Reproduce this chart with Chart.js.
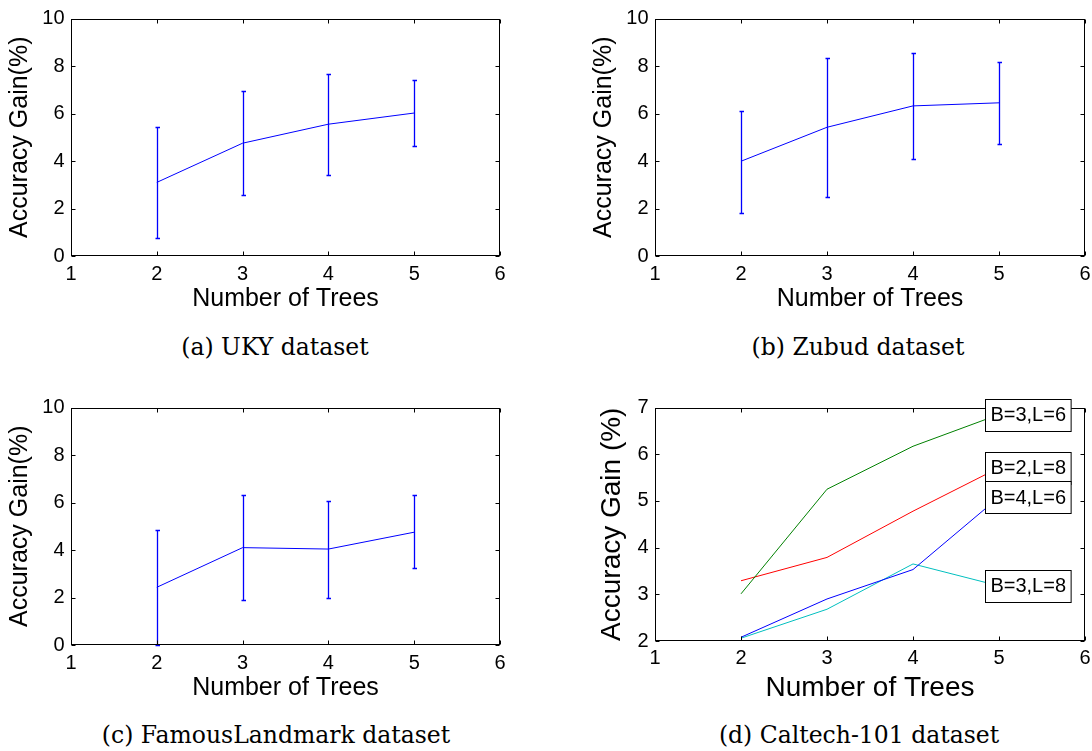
<!DOCTYPE html>
<html>
<head>
<meta charset="utf-8">
<script src="https://cdn.jsdelivr.net/npm/chart.js@4.4.0/dist/chart.umd.min.js"></script>
<style>
  body { margin: 0; width: 1092px; height: 751px; overflow: hidden; background: #fff; position: relative; }
  canvas { position: absolute; }
  .cap { position: absolute; width: 400px; text-align: center; font-family: "DejaVu Serif", "Liberation Serif", serif; font-size: 23.5px; line-height: 28px; color: #000; }
</style>
</head>
<body>
<canvas id="chartA"></canvas>
<canvas id="chartB"></canvas>
<canvas id="chartC"></canvas>
<canvas id="chartD"></canvas>
<div class="cap" style="left:75px;top:333px">(a) UKY dataset</div>
<div class="cap" style="left:658px;top:333px">(b) Zubud dataset</div>
<div class="cap" style="left:76px;top:721px">(c) FamousLandmark dataset</div>
<div class="cap" style="left:659px;top:721px">(d) Caltech-101 dataset</div>
<script>
// data
const trees = [2, 3, 4, 5]
const xTicks = [1, 2, 3, 4, 5, 6]
const gainTicks = [0, 2, 4, 6, 8, 10]
const caltechTicks = [2, 3, 4, 5, 6, 7]

const ukyMean = [3.1, 4.75, 5.55, 6.02]
const ukyLow = [0.76, 2.58, 3.43, 4.62]
const ukyHigh = [5.42, 6.94, 7.68, 7.43]

const zubudMean = [3.99, 5.42, 6.32, 6.45]
const zubudLow = [1.83, 2.5, 4.1, 4.7]
const zubudHigh = [6.1, 8.35, 8.55, 8.18]

const landmarkMean = [2.43, 4.1, 4.04, 4.75]
const landmarkLow = [0, 1.89, 2.0, 3.24]
const landmarkHigh = [4.84, 6.3, 6.07, 6.3]

const caltechNames = ['B=4,L=6', 'B=3,L=6', 'B=2,L=8', 'B=3,L=8']
const caltechB4L6 = [2.08, 2.9, 3.53, 5.08]
const caltechB3L6 = [3.01, 5.25, 6.17, 6.85]
const caltechB2L8 = [3.29, 3.79, 4.78, 5.71]
const caltechB3L8 = [2.06, 2.68, 3.65, 3.18]
const caltechColors = ['#0000ff', '#008000', '#ff0000', '#00bfbf']

Chart.defaults.font.family = '"Liberation Sans", Arial, sans-serif'
Chart.defaults.color = '#000'

const pts = vals => vals.map((v, i) => ({ x: trees[i], y: v }))

// matlab style box with inward ticks
const frameTicks = {
  id: 'frameTicks',
  afterDatasetsDraw(chart) {
    const { ctx, chartArea: a, scales } = chart
    const L = Math.round(a.left) + 0.5, R = Math.round(a.right) - 0.5
    const T = Math.round(a.top) + 0.5, B = Math.round(a.bottom) - 0.5
    ctx.save()
    ctx.strokeStyle = '#000'
    ctx.lineWidth = 1
    ctx.beginPath()
    scales.x.ticks.forEach(t => {
      const px = Math.round(scales.x.getPixelForValue(t.value)) + 0.5
      ctx.moveTo(px, B); ctx.lineTo(px, B - 4)
      ctx.moveTo(px, T); ctx.lineTo(px, T + 4)
    })
    scales.y.ticks.forEach(t => {
      const py = Math.round(scales.y.getPixelForValue(t.value)) + 0.5
      ctx.moveTo(L, py); ctx.lineTo(L + 4, py)
      ctx.moveTo(R, py); ctx.lineTo(R - 4, py)
    })
    ctx.stroke()
    ctx.strokeRect(L, T, R - L, B - T)
    ctx.restore()
  }
}

const errorBars = {
  id: 'errorBars',
  afterDatasetsDraw(chart) {
    const { ctx, scales: { x, y } } = chart
    chart.data.datasets.forEach(ds => {
      if (!ds.errLow) return
      ctx.save()
      ctx.strokeStyle = '#0000ff'
      ctx.lineWidth = 1.3
      ctx.beginPath()
      ds.data.forEach((p, i) => {
        const px = Math.round(x.getPixelForValue(p.x)) + 0.5
        const lo = Math.round(y.getPixelForValue(ds.errLow[i])) + 0.5
        const hi = Math.round(y.getPixelForValue(ds.errHigh[i])) + 0.5
        ctx.moveTo(px, lo); ctx.lineTo(px, hi)
        ctx.moveTo(px - 2, lo); ctx.lineTo(px + 2.5, lo)
        ctx.moveTo(px - 2, hi); ctx.lineTo(px + 2.5, hi)
      })
      ctx.stroke()
      ctx.restore()
    })
  }
}

const endLabels = {
  id: 'endLabels',
  afterDraw(chart) {
    const opts = chart.options.plugins.endLabels
    if (!opts || !opts.show) return
    const { ctx, scales: { x, y } } = chart
    const items = chart.data.datasets.map(ds => ({ text: ds.label, v: ds.data[ds.data.length - 1].y }))
    items.sort((a, b) => b.v - a.v)
    ctx.save()
    ctx.font = '20px "Liberation Sans", Arial, sans-serif'
    ctx.textBaseline = 'middle'
    ctx.textAlign = 'left'
    items.forEach(it => {
      const tx = x.getPixelForValue(opts.atX)
      const cy = y.getPixelForValue(it.v)
      const w = ctx.measureText(it.text).width + 10
      const bx = Math.round(tx - 5) + 0.5, by = Math.round(cy - 16) + 0.5
      ctx.fillStyle = '#fff'
      ctx.fillRect(bx, by, w, 32)
      ctx.strokeStyle = '#000'
      ctx.lineWidth = 1
      ctx.strokeRect(bx, by, w, 32)
      ctx.fillStyle = '#000'
      ctx.fillText(it.text, tx, cy + 1)
    })
    ctx.restore()
  }
}

function makeChart(id, p, datasets, yTicks, yTitle, extra) {
  const yw = 71, xh = 70
  const cv = document.getElementById(id)
  cv.width = Math.round(yw + p.w + 40)
  cv.height = 12 + p.h + xh
  cv.style.left = (p.left - yw) + 'px'
  cv.style.top = (p.top - 12) + 'px'
  new Chart(cv, {
    type: 'line',
    data: { datasets: datasets },
    options: {
      responsive: false,
      animation: false,
      layout: { padding: { top: 12, right: cv.width - yw - p.w, left: 0, bottom: 0 } },
      elements: { point: { radius: 0 }, line: { borderWidth: 1, tension: 0 } },
      plugins: {
        legend: { display: false },
        tooltip: { enabled: false },
        endLabels: extra || {}
      },
      scales: {
        x: {
          type: 'linear', min: xTicks[0], max: xTicks[xTicks.length - 1],
          afterBuildTicks: s => { s.ticks = xTicks.map(v => ({ value: v })) },
          afterFit: s => { s.height = xh },
          grid: { display: false, drawTicks: false },
          border: { display: false },
          ticks: { font: { size: p.tick }, padding: p.xpad, maxRotation: 0 },
          title: {
            display: true, text: 'Number of Trees',
            font: { size: p.title },
            padding: { top: 0, bottom: xh - p.xoff - p.title * 0.6 }
          }
        },
        y: {
          min: yTicks[0], max: yTicks[yTicks.length - 1],
          afterBuildTicks: s => { s.ticks = yTicks.map(v => ({ value: v })) },
          afterFit: s => { s.width = yw },
          grid: { display: false, drawTicks: false },
          border: { display: false },
          ticks: { font: { size: p.tick }, padding: 6.5 },
          title: {
            display: true, text: yTitle,
            font: { size: p.title },
            padding: { top: yw - p.yoff - p.title * 0.6, bottom: 0 }
          }
        }
      }
    },
    plugins: [errorBars, frameTicks, endLabels]
  })
}

const blueSeries = (mean, lo, hi) => [{
  data: pts(mean), borderColor: '#0000ff', errLow: lo, errHigh: hi
}]

const small = { tick: 20, title: 25, xpad: 6, xoff: 43, yoff: 50.5 }

makeChart('chartA', Object.assign({ left: 71, top: 12, w: 429, h: 244 }, small),
  blueSeries(ukyMean, ukyLow, ukyHigh), gainTicks, 'Accuracy Gain(%)')
makeChart('chartB', Object.assign({ left: 655, top: 12, w: 430, h: 244 }, small),
  blueSeries(zubudMean, zubudLow, zubudHigh), gainTicks, 'Accuracy Gain(%)')
makeChart('chartC', Object.assign({ left: 71, top: 401, w: 429, h: 244 }, small),
  blueSeries(landmarkMean, landmarkLow, landmarkHigh), gainTicks, 'Accuracy Gain(%)')

const caltechSeries = [caltechB4L6, caltechB3L6, caltechB2L8, caltechB3L8].map((vals, i) => ({
  label: caltechNames[i], data: pts(vals), borderColor: caltechColors[i]
}))
makeChart('chartD', { left: 655, top: 401, w: 430, h: 240, tick: 20, title: 28, xpad: 5, xoff: 47, yoff: 43 },
  caltechSeries, caltechTicks, 'Accuracy Gain (%)', { show: true, atX: 4.9 })
</script>
</body>
</html>
